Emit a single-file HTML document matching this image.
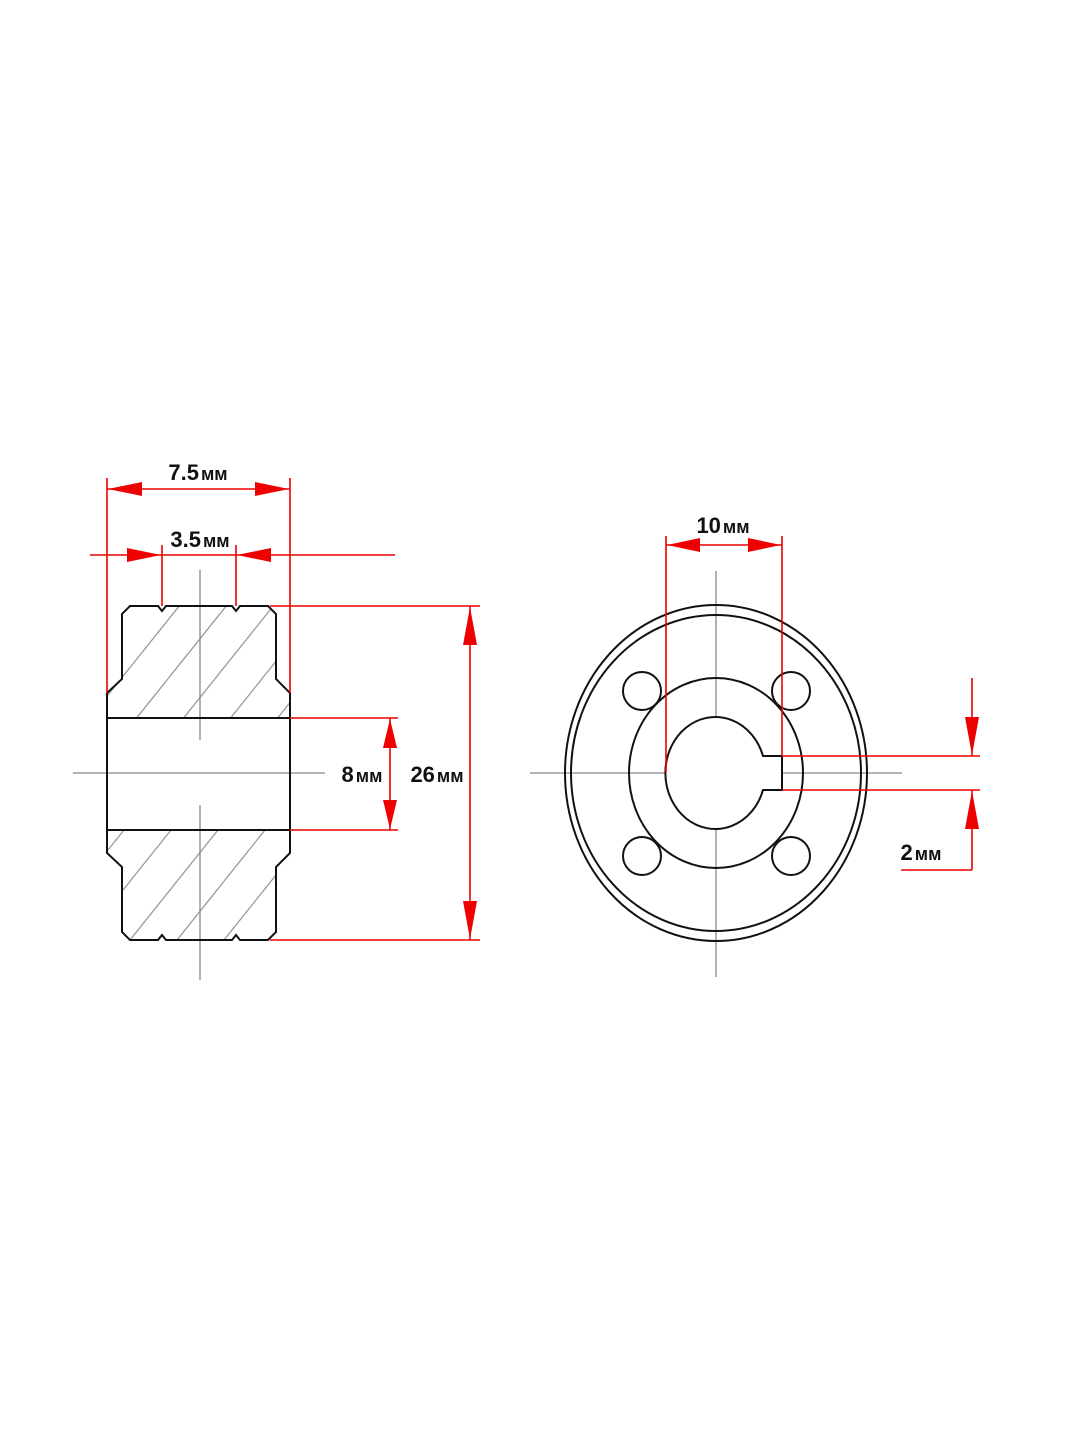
<!DOCTYPE html>
<html><head><meta charset="utf-8"><style>
html,body{margin:0;padding:0;background:#fff;}
svg{display:block;}
text{font-family:"Liberation Sans Narrow","Liberation Sans",sans-serif;font-weight:bold;fill:#111;}
</style></head><body>
<svg width="1080" height="1440" viewBox="0 0 1080 1440" xmlns="http://www.w3.org/2000/svg">
<defs>
<clipPath id="topc"><path d="M130,606 L268,606 L276,614 L276,679 L290,693 L290,718 L107,718 L107,693 L122,679 L122,614 Z"/></clipPath>
<clipPath id="botc"><path d="M107,830 L290,830 L290,853 L276,867 L276,932 L268,940 L130,940 L122,932 L122,867 L107,853 Z"/></clipPath>
</defs>
<g stroke="#999" stroke-width="1.3" clip-path="url(#topc)">
<line x1="40" y1="780" x2="200" y2="580"/><line x1="87" y1="780" x2="247" y2="580"/><line x1="134" y1="780" x2="294" y2="580"/><line x1="181" y1="780" x2="341" y2="580"/><line x1="228" y1="780" x2="388" y2="580"/><line x1="275" y1="780" x2="435" y2="580"/>
</g>
<g stroke="#999" stroke-width="1.3" clip-path="url(#botc)">
<line x1="20" y1="960" x2="164" y2="780"/><line x1="67" y1="960" x2="211" y2="780"/><line x1="114" y1="960" x2="258" y2="780"/><line x1="161" y1="960" x2="305" y2="780"/><line x1="208" y1="960" x2="352" y2="780"/><line x1="255" y1="960" x2="399" y2="780"/><line x1="302" y1="960" x2="446" y2="780"/>
</g>
<g stroke="#888" stroke-width="1.3">
<line x1="73" y1="773" x2="325" y2="773"/>
<line x1="200" y1="570" x2="200" y2="740"/><line x1="200" y1="805" x2="200" y2="980"/>
<line x1="530" y1="773" x2="686" y2="773"/><line x1="746" y1="773" x2="902" y2="773"/>
<line x1="716" y1="571" x2="716" y2="741"/><line x1="716" y1="806" x2="716" y2="977"/>
</g>
<g fill="none" stroke="#111" stroke-width="2">
<path d="M130,606 L158,606 L162,611 L166,606 L232,606 L236,611 L240,606 L268,606 L276,614 L276,679 L290,693 L290,853 L276,867 L276,932 L268,940 L240,940 L236,935 L232,940 L166,940 L162,935 L158,940 L130,940 L122,932 L122,867 L107,853 L107,693 L122,679 L122,614 Z"/>
<line x1="107" y1="718" x2="290" y2="718"/><line x1="107" y1="830" x2="290" y2="830"/>
</g>
<g fill="none" stroke="#111" stroke-width="2">
<ellipse cx="716" cy="773" rx="151" ry="168"/>
<ellipse cx="716" cy="773" rx="145" ry="158"/>
<ellipse cx="716" cy="773" rx="87" ry="95"/>
<circle cx="642" cy="691" r="19"/><circle cx="791" cy="691" r="19"/>
<circle cx="642" cy="856" r="19"/><circle cx="791" cy="856" r="19"/>
<path d="M763,756 A50,56 0 1 0 763,790 L782,790 L782,756 Z" fill="#fff"/>
</g>
<g stroke="#e00" stroke-width="1.6" fill="none">
<line x1="107" y1="478" x2="107" y2="693"/><line x1="290" y1="478" x2="290" y2="693"/>
<line x1="107" y1="489" x2="290" y2="489"/>
<line x1="90" y1="555" x2="395" y2="555"/>
<line x1="162" y1="545" x2="162" y2="606"/><line x1="236" y1="545" x2="236" y2="606"/>
<line x1="270" y1="606" x2="480" y2="606"/><line x1="270" y1="940" x2="480" y2="940"/>
<line x1="470" y1="606" x2="470" y2="940"/>
<line x1="290" y1="718" x2="398" y2="718"/><line x1="290" y1="830" x2="398" y2="830"/>
<line x1="390" y1="718" x2="390" y2="830"/>
<line x1="666" y1="536" x2="666" y2="773"/><line x1="782" y1="536" x2="782" y2="756"/>
<line x1="666" y1="545" x2="782" y2="545"/>
<line x1="782" y1="756" x2="980" y2="756"/><line x1="782" y1="790" x2="980" y2="790"/>
<line x1="972" y1="678" x2="972" y2="756"/><line x1="972" y1="790" x2="972" y2="870"/>
<line x1="901" y1="870" x2="972" y2="870"/>
</g>
<g fill="#e00">
<polygon points="108,489 142,482 142,496"/><polygon points="289,489 255,482 255,496"/>
<polygon points="161,555 127,548 127,562"/><polygon points="237,555 271,548 271,562"/>
<polygon points="470,607 463,645 477,645"/><polygon points="470,939 463,901 477,901"/>
<polygon points="390,719 383,748 397,748"/><polygon points="390,829 383,800 397,800"/>
<polygon points="667,545 700,538 700,552"/><polygon points="781,545 748,538 748,552"/>
<polygon points="972,755 965,717 979,717"/><polygon points="972,791 965,829 979,829"/>
</g>
<g font-size="22">
<text x="198" y="480" text-anchor="middle">7.5<tspan font-size="18" dx="2">мм</tspan></text>
<text x="200" y="547" text-anchor="middle">3.5<tspan font-size="18" dx="2">мм</tspan></text>
<text x="362" y="782" text-anchor="middle">8<tspan font-size="18" dx="2">мм</tspan></text>
<text x="437" y="782" text-anchor="middle">26<tspan font-size="18" dx="2">мм</tspan></text>
<text x="723" y="533" text-anchor="middle">10<tspan font-size="18" dx="2">мм</tspan></text>
<text x="921" y="860" text-anchor="middle">2<tspan font-size="18" dx="2">мм</tspan></text>
</g>
</svg>
</body></html>
